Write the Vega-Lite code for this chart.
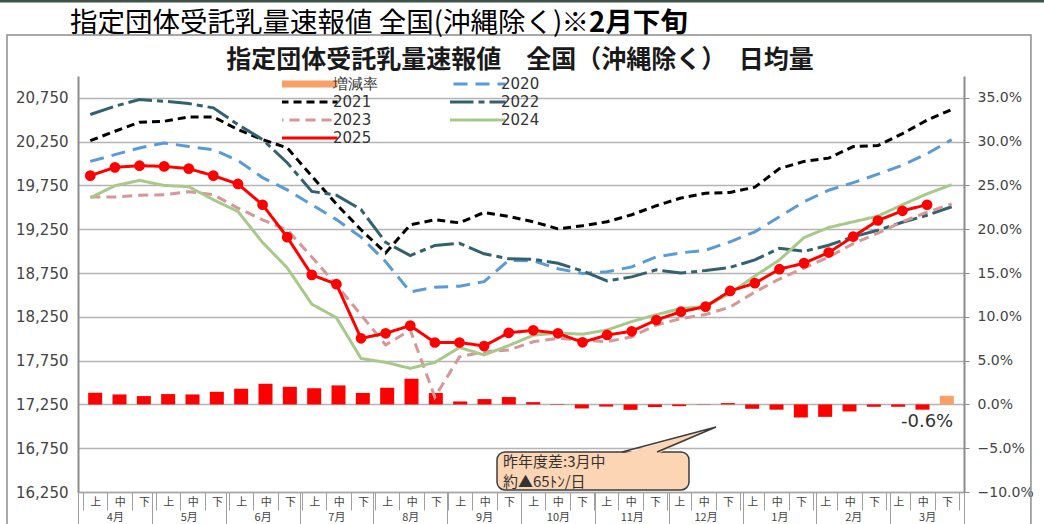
{
  "$schema": "https://vega.github.io/schema/vega-lite/v6.json",
  "width": 886,
  "height": 416,
  "autosize": {"type": "none"},
  "padding": {"left": 78, "top": 76, "right": 80, "bottom": 32},
  "background": "white",
  "config": {"view": {"stroke": null}, "font": "DejaVu Sans"},
  "datasets": {
    "main": [
      {"k": 0, "rate": 1.33, "2020": 20025, "2021": 20262, "2022": 20560, "2023": 19618, "2024": 19610, "2025": 19862},
      {"k": 1, "rate": 1.14, "2020": 20102, "2021": 20369, "2022": 20655, "2023": 19618, "2024": 19747, "2025": 19957},
      {"k": 2, "rate": 0.95, "2020": 20178, "2021": 20472, "2022": 20731, "2023": 19637, "2024": 19808, "2025": 19976},
      {"k": 3, "rate": 1.18, "2020": 20236, "2021": 20483, "2022": 20712, "2023": 19645, "2024": 19751, "2025": 19968},
      {"k": 4, "rate": 1.14, "2020": 20195, "2021": 20533, "2022": 20685, "2023": 19679, "2024": 19736, "2025": 19942},
      {"k": 5, "rate": 1.44, "2020": 20159, "2021": 20533, "2022": 20636, "2023": 19645, "2024": 19587, "2025": 19862},
      {"k": 6, "rate": 1.79, "2020": 20035, "2021": 20388, "2022": 20445, "2023": 19492, "2024": 19453, "2025": 19767},
      {"k": 7, "rate": 2.36, "2020": 19840, "2021": 20274, "2022": 20274, "2023": 19358, "2024": 19099, "2025": 19530},
      {"k": 8, "rate": 2.01, "2020": 19700, "2021": 20180, "2022": 20010, "2023": 19244, "2024": 18810, "2025": 19160},
      {"k": 9, "rate": 1.85, "2020": 19530, "2021": 19857, "2022": 19682, "2023": 18934, "2024": 18395, "2025": 18729},
      {"k": 10, "rate": 2.17, "2020": 19360, "2021": 19537, "2022": 19640, "2023": 18614, "2024": 18240, "2025": 18623},
      {"k": 11, "rate": 1.31, "2020": 19160, "2021": 19244, "2022": 19475, "2023": 18272, "2024": 17775, "2025": 18005},
      {"k": 12, "rate": 1.90, "2020": 18880, "2021": 18980, "2022": 19100, "2023": 17929, "2024": 17730, "2025": 18062},
      {"k": 13, "rate": 2.93, "2020": 18535, "2021": 19301, "2022": 18950, "2023": 18100, "2024": 17662, "2025": 18150},
      {"k": 14, "rate": 1.30, "2020": 18588, "2021": 19358, "2022": 19065, "2023": 17335, "2024": 17730, "2025": 17957},
      {"k": 15, "rate": 0.34, "2020": 18600, "2021": 19324, "2022": 19090, "2023": 17793, "2024": 17900, "2025": 17957},
      {"k": 16, "rate": 0.61, "2020": 18652, "2021": 19442, "2022": 18970, "2023": 17852, "2024": 17815, "2025": 17917},
      {"k": 17, "rate": 0.84, "2020": 18895, "2021": 19396, "2022": 18912, "2023": 17871, "2024": 17922, "2025": 18068},
      {"k": 18, "rate": 0.26, "2020": 18890, "2021": 19336, "2022": 18906, "2023": 17966, "2024": 18040, "2025": 18096},
      {"k": 19, "rate": 0.05, "2020": 18800, "2021": 19255, "2022": 18861, "2023": 18005, "2024": 18065, "2025": 18062},
      {"k": 20, "rate": -0.46, "2020": 18745, "2021": 19290, "2022": 18775, "2023": 17985, "2024": 18052, "2025": 17959},
      {"k": 21, "rate": -0.25, "2020": 18765, "2021": 19336, "2022": 18660, "2023": 17966, "2024": 18100, "2025": 18043},
      {"k": 22, "rate": -0.62, "2020": 18820, "2021": 19416, "2022": 18706, "2023": 18023, "2024": 18196, "2025": 18085},
      {"k": 23, "rate": -0.30, "2020": 18935, "2021": 19519, "2022": 18786, "2023": 18157, "2024": 18275, "2025": 18214},
      {"k": 24, "rate": -0.20, "2020": 18981, "2021": 19607, "2022": 18750, "2023": 18230, "2024": 18345, "2025": 18309},
      {"k": 25, "rate": 0.03, "2020": 19010, "2021": 19662, "2022": 18779, "2023": 18276, "2024": 18370, "2025": 18367},
      {"k": 26, "rate": 0.15, "2020": 19107, "2021": 19671, "2022": 18815, "2023": 18362, "2024": 18520, "2025": 18546},
      {"k": 27, "rate": -0.50, "2020": 19221, "2021": 19730, "2022": 18901, "2023": 18533, "2024": 18715, "2025": 18634},
      {"k": 28, "rate": -0.60, "2020": 19393, "2021": 19942, "2022": 19032, "2023": 18682, "2024": 18900, "2025": 18794},
      {"k": 29, "rate": -1.49, "2020": 19564, "2021": 20025, "2022": 18998, "2023": 18807, "2024": 19155, "2025": 18863},
      {"k": 30, "rate": -1.42, "2020": 19696, "2021": 20062, "2022": 19067, "2023": 18932, "2024": 19270, "2025": 18984},
      {"k": 31, "rate": -0.80, "2020": 19782, "2021": 20194, "2022": 19164, "2023": 19086, "2024": 19335, "2025": 19167},
      {"k": 32, "rate": -0.27, "2020": 19879, "2021": 20205, "2022": 19239, "2023": 19206, "2024": 19400, "2025": 19350},
      {"k": 33, "rate": -0.27, "2020": 19982, "2021": 20342, "2022": 19330, "2023": 19337, "2024": 19530, "2025": 19461},
      {"k": 34, "rate": -0.60, "2020": 20113, "2021": 20497, "2022": 19410, "2023": 19445, "2024": 19655, "2025": 19530},
      {"k": 35, "rate": 0.99, "2020": 20274, "2021": 20617, "2022": 19507, "2023": 19540, "2024": 19759}
    ],
    "wedge": [
      {"k": 21.604, "top": 16684, "bot": 16684},
      {"k": 23.026, "top": 16799, "bot": 16684},
      {"k": 25.424, "top": 16992, "bot": 16992}
    ],
    "edge": [
      {"p": 0, "k": 21.604, "v": 16707},
      {"p": 1, "k": 25.424, "v": 16992},
      {"p": 2, "k": 23.026, "v": 16707}
    ]
  },
  "layer": [
    {
      "data": {"values": [{}]},
      "mark": {"type": "rect", "filled": false, "color": "#8c8c8c", "strokeWidth": 1.5},
      "encoding": {
        "x": {"datum": -3.385, "type": "quantitative", "scale": {"domain": [-0.5, 35.5], "nice": false, "zero": false}, "axis": null},
        "x2": {"datum": 38.22},
        "y": {"datum": 21468, "type": "quantitative", "scale": {"domain": [16250, 21000], "nice": false, "zero": false}, "axis": null},
        "y2": {"datum": 15500}
      }
    },
    {
      "data": {"values": [{}]},
      "mark": {"type": "rule", "color": "#3f5248", "strokeWidth": 3},
      "encoding": {
        "x": {"datum": -3.67, "type": "quantitative", "scale": {"domain": [-0.5, 35.5], "nice": false, "zero": false}, "axis": null},
        "x2": {"datum": 38.75},
        "y": {"datum": 21856, "type": "quantitative", "scale": {"domain": [16250, 21000], "nice": false, "zero": false}, "axis": null}
      }
    },
    {
      "data": {"name": "main"},
      "mark": {"type": "bar", "width": 14},
      "encoding": {
        "x": {
          "field": "k", "type": "quantitative",
          "scale": {"domain": [-0.5, 35.5], "nice": false, "zero": false},
          "axis": {
            "orient": "bottom",
            "values": [-0.5, 0.5, 1.5, 2.5, 3.5, 4.5, 5.5, 6.5, 7.5, 8.5, 9.5, 10.5, 11.5, 12.5, 13.5, 14.5, 15.5, 16.5, 17.5, 18.5, 19.5, 20.5, 21.5, 22.5, 23.5, 24.5, 25.5, 26.5, 27.5, 28.5, 29.5, 30.5, 31.5, 32.5, 33.5, 34.5, 35.5],
            "title": null, "grid": false,
            "domain": true, "domainColor": "#a6a6a6", "domainWidth": 1.5,
            "ticks": true, "tickSize": 18, "tickColor": "#a0a0a0", "tickWidth": 1,
            "labelExpr": "datum.value > 35 ? '' : ['上','中','下'][round(datum.value + 0.5) % 3]",
            "labelOffset": 12.31, "labelPadding": -14,
            "labelFont": "Noto Sans CJK JP", "labelFontSize": 11, "labelColor": "#444",
            "labelFlush": false, "labelOverlap": false, "labelBound": false
          }
        },
        "y": {
          "field": "rate", "type": "quantitative",
          "scale": {"domain": [-10, 37.5], "nice": false, "zero": false},
          "axis": {
            "orient": "right", "values": [-10, -5, 0, 5, 10, 15, 20, 25, 30, 35],
            "labelExpr": "format(datum.value, '.1f') + '%'",
            "title": null, "grid": false,
            "ticks": true, "tickSize": 5, "tickColor": "#8c8c8c",
            "domain": true, "domainColor": "#8c8c8c", "domainWidth": 2,
            "labelFont": "DejaVu Sans", "labelFontSize": 14, "labelColor": "#444", "labelPadding": 8,
            "labelFlush": false, "labelOverlap": false
          }
        },
        "y2": {"datum": 0},
        "color": {"condition": {"test": "datum.k === 35", "value": "#f9a066"}, "value": "#ff0000"}
      }
    },
    {
      "data": {"values": [{}]},
      "mark": {"type": "text", "font": "DejaVu Sans", "fontSize": 18, "color": "#333", "baseline": "middle"},
      "encoding": {
        "x": {"datum": 34, "type": "quantitative", "scale": {"domain": [-0.5, 35.5], "nice": false, "zero": false}, "axis": null},
        "y": {"datum": -2.0, "type": "quantitative", "scale": {"domain": [-10, 37.5], "nice": false, "zero": false}, "axis": null},
        "text": {"value": "-0.6%"}
      }
    },
    {
      "data": {"values": [{}]},
      "mark": {"type": "text", "align": "left", "baseline": "alphabetic", "font": "Noto Sans CJK JP", "fontSize": 27.5, "color": "#000"},
      "encoding": {
        "x": {"datum": -0.825, "type": "quantitative", "scale": {"domain": [-0.5, 35.5], "nice": false, "zero": false}, "axis": null},
        "y": {"datum": 21502, "type": "quantitative", "scale": {"domain": [16250, 21000], "nice": false, "zero": false}, "axis": null},
        "text": {"value": "指定団体受託乳量速報値 全国(沖縄除く)"}
      }
    },
    {
      "data": {"values": [{}]},
      "mark": {"type": "text", "align": "left", "baseline": "alphabetic", "font": "Noto Sans CJK JP", "fontSize": 27.5, "fontWeight": "bold", "color": "#000"},
      "encoding": {
        "x": {"datum": 19.15, "type": "quantitative", "scale": {"domain": [-0.5, 35.5], "nice": false, "zero": false}, "axis": null},
        "y": {"datum": 21502, "type": "quantitative", "scale": {"domain": [16250, 21000], "nice": false, "zero": false}, "axis": null},
        "text": {"value": "※2月下旬"}
      }
    },
    {
      "data": {"values": [{}]},
      "mark": {"type": "text", "align": "center", "baseline": "alphabetic", "font": "Noto Sans CJK JP", "fontSize": 25, "fontWeight": "bold", "color": "#1a1a1a"},
      "encoding": {
        "x": {"datum": 17.46, "type": "quantitative", "scale": {"domain": [-0.5, 35.5], "nice": false, "zero": false}, "axis": null},
        "y": {"datum": 21086, "type": "quantitative", "scale": {"domain": [16250, 21000], "nice": false, "zero": false}, "axis": null},
        "text": {"value": "指定団体受託乳量速報値　全国（沖縄除く）　日均量"}
      }
    },
    {
      "data": {"name": "main"},
      "transform": [
        {"fold": ["2020", "2021", "2022", "2023", "2024", "2025"], "as": ["series", "v"]},
        {"filter": "isValid(datum.v)"}
      ],
      "mark": {"type": "line", "strokeWidth": 3, "strokeCap": "butt"},
      "encoding": {
        "x": {
          "field": "k", "type": "quantitative",
          "scale": {"domain": [-0.5, 35.5], "nice": false, "zero": false},
          "axis": {
            "orient": "bottom",
            "values": [-0.5, 2.5, 5.5, 8.5, 11.5, 14.5, 17.5, 20.5, 23.5, 26.5, 29.5, 32.5, 35.5],
            "title": null, "grid": false, "domain": false,
            "ticks": true, "tickSize": 34, "tickColor": "#a0a0a0", "tickWidth": 1,
            "labelExpr": "datum.value > 35 ? '' : ['4月','5月','6月','7月','8月','9月','10月','11月','12月','1月','2月','3月'][round((datum.value + 0.5) / 3)]",
            "labelOffset": 36.92, "labelPadding": -15,
            "labelFont": "Noto Sans CJK JP", "labelFontSize": 11, "labelColor": "#444",
            "labelFlush": false, "labelOverlap": false, "labelBound": false
          }
        },
        "y": {
          "field": "v", "type": "quantitative",
          "scale": {"domain": [16250, 21000], "nice": false, "zero": false},
          "axis": {
            "orient": "left",
            "values": [16250, 16750, 17250, 17750, 18250, 18750, 19250, 19750, 20250, 20750],
            "labelExpr": "format(datum.value, ',')", "title": null,
            "grid": true, "gridColor": "#b4b4b4", "gridWidth": 1.5,
            "ticks": false, "domain": true, "domainColor": "#8c8c8c", "domainWidth": 2,
            "labelFont": "DejaVu Sans", "labelFontSize": 15, "labelColor": "#444", "labelPadding": 10,
            "labelFlush": false, "labelOverlap": false
          }
        },
        "color": {
          "field": "series", "type": "nominal",
          "scale": {
            "domain": ["増減率", "2020", "2021", "2022", "2023", "2024", "2025"],
            "range": ["#f9a066", "#5b9bd5", "#000000", "#31626e", "#d59797", "#a9c98b", "#ff0000"]
          },
          "legend": {
            "title": null, "orient": "none", "legendX": 204, "legendY": -1, "direction": "horizontal",
            "columns": 2, "symbolType": "stroke", "symbolSize": 9216, "symbolStrokeWidth": 3,
            "clipHeight": 18, "rowPadding": 0, "columnPadding": 72,
            "labelFont": "DejaVu Sans", "labelFontSize": 15, "labelColor": "#333", "labelOffset": 36, "padding": 0,
            "encode": {"symbols": {"update": {"strokeWidth": {"signal": "datum.value === '増減率' ? 7 : 3"}}}}
          }
        },
        "strokeDash": {
          "field": "series", "type": "nominal",
          "scale": {
            "domain": ["増減率", "2020", "2021", "2022", "2023", "2024", "2025"],
            "range": [[1, 0], [14, 8], [8, 5], [24, 5, 6, 5], [10, 6], [1, 0], [1, 0]]
          },
          "legend": {
            "title": null, "orient": "none", "legendX": 204, "legendY": -1, "direction": "horizontal",
            "columns": 2, "symbolType": "stroke", "symbolSize": 9216, "symbolStrokeWidth": 3,
            "clipHeight": 18, "rowPadding": 0, "columnPadding": 72,
            "labelFont": "DejaVu Sans", "labelFontSize": 15, "labelColor": "#333", "labelOffset": 36, "padding": 0,
            "encode": {"symbols": {"update": {"strokeWidth": {"signal": "datum.value === '増減率' ? 7 : 3"}}}}
          }
        },
        "strokeWidth": {
          "condition": [
            {"test": "datum.series === '2025'", "value": 3.5},
            {"test": "datum.series === '2021'", "value": 3.5}
          ],
          "value": 2.8
        }
      }
    },
    {
      "data": {"name": "main"},
      "mark": {"type": "circle", "size": 115, "color": "#ff0000", "opacity": 1},
      "encoding": {
        "x": {"field": "k", "type": "quantitative", "scale": {"domain": [-0.5, 35.5], "nice": false, "zero": false}, "axis": null},
        "y": {"field": "2025", "type": "quantitative", "scale": {"domain": [16250, 21000], "nice": false, "zero": false}, "axis": null}
      }
    },
    {
      "data": {"values": [{}]},
      "mark": {"type": "rect", "fill": "#fcd5b4", "stroke": "#3c3c3c", "strokeWidth": 1.5, "cornerRadius": 8},
      "encoding": {
        "x": {"datum": 16.525, "type": "quantitative", "scale": {"domain": [-0.5, 35.5], "nice": false, "zero": false}, "axis": null},
        "x2": {"datum": 24.326},
        "y": {"datum": 16707, "type": "quantitative", "scale": {"domain": [16250, 21000], "nice": false, "zero": false}, "axis": null},
        "y2": {"datum": 16273}
      }
    },
    {
      "data": {"name": "wedge"},
      "mark": {"type": "area", "fill": "#fcd5b4", "opacity": 1},
      "encoding": {
        "x": {"field": "k", "type": "quantitative", "scale": {"domain": [-0.5, 35.5], "nice": false, "zero": false}, "axis": null},
        "y": {"field": "top", "type": "quantitative", "scale": {"domain": [16250, 21000], "nice": false, "zero": false}, "axis": null},
        "y2": {"field": "bot"}
      }
    },
    {
      "data": {"name": "edge"},
      "mark": {"type": "line", "stroke": "#3c3c3c", "strokeWidth": 1.5},
      "encoding": {
        "x": {"field": "k", "type": "quantitative", "scale": {"domain": [-0.5, 35.5], "nice": false, "zero": false}, "axis": null},
        "y": {"field": "v", "type": "quantitative", "scale": {"domain": [16250, 21000], "nice": false, "zero": false}, "axis": null},
        "order": {"field": "p", "type": "quantitative"}
      }
    },
    {
      "data": {"values": [{}]},
      "mark": {"type": "text", "align": "left", "baseline": "middle", "font": "Noto Sans CJK JP", "fontSize": 15, "color": "#333"},
      "encoding": {
        "x": {"datum": 16.77, "type": "quantitative", "scale": {"domain": [-0.5, 35.5], "nice": false, "zero": false}, "axis": null},
        "y": {"datum": 16595, "type": "quantitative", "scale": {"domain": [16250, 21000], "nice": false, "zero": false}, "axis": null},
        "text": {"value": "昨年度差:3月中"}
      }
    },
    {
      "data": {"values": [{}]},
      "mark": {"type": "text", "align": "left", "baseline": "middle", "font": "Noto Sans CJK JP", "fontSize": 15, "color": "#333"},
      "encoding": {
        "x": {"datum": 16.77, "type": "quantitative", "scale": {"domain": [-0.5, 35.5], "nice": false, "zero": false}, "axis": null},
        "y": {"datum": 16360, "type": "quantitative", "scale": {"domain": [16250, 21000], "nice": false, "zero": false}, "axis": null},
        "text": {"value": "約▲65ﾄﾝ/日"}
      }
    }
  ],
  "resolve": {"scale": {"x": "independent", "y": "independent"}, "axis": {"x": "independent", "y": "independent"}}
}
